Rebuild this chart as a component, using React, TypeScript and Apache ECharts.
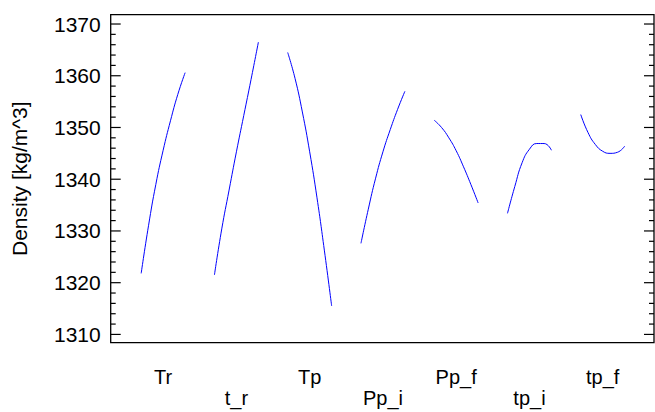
import React, { useEffect, useRef } from "react";
import * as echarts from "echarts";

const factors = ["Tr", "t_r", "Tp", "Pp_i", "Pp_f", "tp_i", "tp_f"];
// coded factor levels, low (-1) to high (+1)
const levels = [-1, -2 / 3, -1 / 3, 0, 1 / 3, 2 / 3, 1];

const trValues = [1321.8, 1331.0, 1339.0, 1345.6, 1351.3, 1356.4, 1360.6];
const trResValues = [1321.5, 1330.4, 1337.9, 1345.3, 1352.3, 1359.3, 1366.5];
const tpValues = [1364.5, 1359.5, 1353.0, 1345.3, 1336.4, 1326.3, 1315.5];
const ppiValues = [1327.6, 1334.2, 1340.2, 1345.3, 1349.6, 1353.5, 1357.0];
const ppfValues = [1351.4, 1350.0, 1348.0, 1345.5, 1342.4, 1339.0, 1335.4];
const tpiValues = [1333.4, 1338.6, 1343.2, 1345.8, 1346.9, 1346.9, 1345.6];
const tpfValues = [1352.5, 1349.0, 1346.7, 1345.4, 1345.0, 1345.2, 1346.4];

const seriesValues = [trValues, trResValues, tpValues, ppiValues, ppfValues, tpiValues, tpfValues];

const yTicks = [1310, 1320, 1330, 1340, 1350, 1360, 1370];
const minorTickStep = 2;
const yMin = 1308.4;
const yMax = 1371.8;
const xMin = -0.716;
const xMax = 6.7;

const W = 655;
const H = 412;
const G = { left: 110.7, right: 1, top: 14.7, bottom: 69.3 };

export default function App() {
  const ref = useRef<HTMLDivElement>(null);
  useEffect(() => {
    if (!ref.current) return;
    const chart = echarts.init(ref.current, undefined, { renderer: "svg" });
    const halfWidth = 0.3;
    const font = "Liberation Sans, Arial, sans-serif";
    chart.setOption({
      animation: false,
      backgroundColor: "#fff",
      grid: {
        left: G.left,
        right: G.right,
        top: G.top,
        bottom: G.bottom,
        show: true,
        borderColor: "#000",
        borderWidth: 1.3,
        backgroundColor: "transparent",
      },
      xAxis: {
        type: "value",
        min: xMin,
        max: xMax,
        axisLine: { show: false, onZero: false },
        axisTick: { show: false },
        splitLine: { show: false },
        axisLabel: {
          show: true,
          customValues: factors.map((_, i) => i),
          formatter: (v: number) => {
            const i = Math.round(v);
            return i % 2 === 1 ? "\n" + factors[i] : factors[i];
          },
          color: "#000",
          fontSize: 20,
          lineHeight: 21,
          fontFamily: font,
          margin: 24,
        },
      },
      yAxis: {
        type: "value",
        min: yMin,
        max: yMax,
        axisLine: { show: false, onZero: false },
        splitLine: { show: false },
        axisTick: { show: false },
        axisLabel: {
          show: true,
          customValues: yTicks,
          formatter: (v: number) => String(Math.round(v)),
          color: "#000",
          fontSize: 21,
          fontFamily: font,
          margin: 10,
        },
        name: "Density [kg/m^3]",
        nameLocation: "middle",
        nameGap: 81,
        nameTextStyle: { color: "#000", fontSize: 21, fontFamily: font },
      },
      series: seriesValues.map((vals, i) => ({
        type: "line",
        name: factors[i],
        data: vals.map((v, k) => [i + levels[k] * halfWidth, v]),
        smooth: true,
        showSymbol: false,
        lineStyle: { color: "#0000ff", width: 1 },
        silent: true,
      })),
    });

    // frame tick marks (both sides), every 2 units, longer every 10
    const plotTop = G.top;
    const plotBottom = H - G.bottom;
    const plotLeft = G.left;
    const plotRight = W - G.right;
    const toY = (v: number) => {
      let p: any = null;
      try {
        p = chart.convertToPixel({ xAxisIndex: 0, yAxisIndex: 0 }, [xMin, v]);
      } catch (e) {
        p = null;
      }
      if (p && isFinite(p[1])) return p[1] as number;
      return plotBottom - ((v - yMin) / (yMax - yMin)) * (plotBottom - plotTop);
    };
    const tickEls: any[] = [];
    const first = Math.ceil(yMin / minorTickStep) * minorTickStep;
    for (let v = first; v < yMax; v += minorTickStep) {
      const len = v % 10 === 0 ? 10 : 5;
      const y = toY(v);
      tickEls.push({
        type: "line",
        z: 100,
        silent: true,
        shape: { x1: plotLeft, y1: y, x2: plotLeft + len, y2: y },
        style: { stroke: "#000", lineWidth: 1.2 },
      });
      tickEls.push({
        type: "line",
        z: 100,
        silent: true,
        shape: { x1: plotRight - len, y1: y, x2: plotRight, y2: y },
        style: { stroke: "#000", lineWidth: 1.2 },
      });
    }
    chart.setOption({ graphic: { elements: tickEls } });
    return () => chart.dispose();
  }, []);
  return (
    <div
      ref={ref}
      style={{ position: "absolute", left: 0, top: 0, width: W, height: H }}
    />
  );
}
